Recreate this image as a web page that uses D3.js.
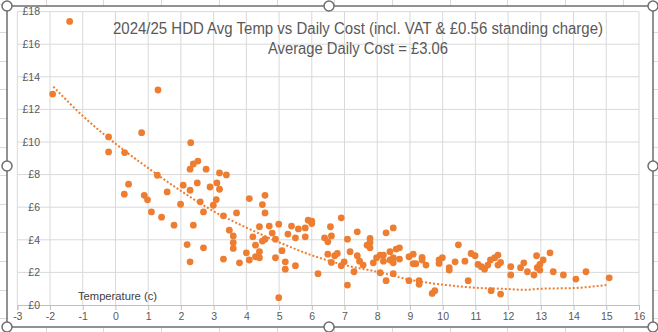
<!DOCTYPE html>
<html>
<head>
<meta charset="utf-8">
<script src="https://cdn.jsdelivr.net/npm/d3@7"></script>
<style>
html,body{margin:0;padding:0;background:#fff;}
svg{display:block;}
text{font-family:"Liberation Sans","Noto Sans",Arial,sans-serif;}
</style>
</head>
<body>
<svg id="chart" width="658" height="332"></svg>
<script>
// ---- Data ----
const temps = [
 -1.92,-1.40,1.30,-0.21,-0.21,0.28,0.80,2.30,2.38,2.52,2.28,2.77,3.18,3.39,
 0.27,0.40,0.88,0.98,1.10,1.28,1.41,1.58,1.79,1.99,2.07,2.19,2.28,2.28,2.38,2.50,2.59,2.69,2.69,2.89,2.99,3.08,3.10,3.18,3.30,3.30,3.48,3.60,3.60,3.60,3.70,3.79,4.00,4.09,4.09,4.20,4.28,4.28,4.40,4.40,4.40,4.49,4.49,4.57,4.57,4.57,4.70,4.79,4.89,4.89,4.99,4.99,5.09,5.19,5.19,5.27,5.38,5.50,5.50,5.59,5.80,5.80,5.89,6.00,6.00,6.19,6.39,6.49,6.49,6.57,
 6.60,6.60,6.70,6.78,6.90,6.90,6.99,7.09,7.09,7.17,7.29,7.39,7.39,7.46,7.57,7.69,7.78,7.78,7.78,7.88,7.98,8.09,8.09,8.19,8.19,8.27,8.27,8.39,8.39,8.49,8.49,8.49,8.49,8.58,8.68,8.68,8.97,8.97,9.10,9.10,9.18,9.28,9.28,9.37,9.37,9.49,9.68,9.76,9.89,9.89,9.99,10.20,10.20,10.38,10.48,10.68,10.78,10.87,10.99,11.08,11.18,11.28,11.38,11.46,11.48,11.59,11.69,11.69,11.77,11.77,12.08,12.08,12.38,12.48,12.59,12.79,12.87,12.89,12.97,12.97,13.07,13.28,13.38,13.69,14.07,14.38,15.09
];
const dailyCost = [
 12.94,17.40,13.19,10.31,9.39,9.35,10.57,9.96,8.65,8.83,8.33,8.33,8.10,7.98,
 6.80,7.41,6.73,6.45,5.71,7.96,5.39,6.94,4.90,6.18,7.35,3.71,7.04,2.65,4.90,7.49,6.33,3.51,5.71,7.24,6.12,6.47,7.49,7.10,5.47,2.82,4.59,4.24,3.82,3.47,5.65,2.59,3.20,6.53,2.76,4.18,3.67,2.96,4.80,3.27,2.90,3.92,6.16,6.73,5.65,4.04,4.84,4.41,4.04,2.90,4.96,0.45,3.33,2.65,2.20,4.35,4.84,2.41,4.12,4.67,4.73,4.18,5.20,5.14,5.00,1.92,4.12,3.88,3.12,4.80,
 4.24,2.61,3.02,3.16,5.35,2.41,2.65,4.04,1.22,3.27,2.04,4.49,3.02,2.69,2.45,3.67,4.08,3.84,3.51,2.59,2.90,3.06,1.98,3.06,2.69,4.43,1.49,3.27,2.76,4.73,2.90,2.59,1.92,3.43,3.51,2.82,2.96,1.49,3.12,2.53,2.53,1.49,1.27,2.92,2.76,2.45,0.71,0.88,2.76,2.55,2.90,2.29,2.14,2.65,3.69,2.69,1.49,3.16,3.02,2.49,2.35,2.20,2.45,2.76,0.88,2.90,3.06,2.45,2.61,0.67,2.35,1.84,2.29,2.59,2.04,1.84,3.02,2.29,2.49,2.14,2.76,3.20,2.04,1.84,1.59,2.04,1.67
];
const trendTemps = [-1.9,-1,0,1,2,3,4,5,6,7,8,9,10,11,12,12.5,13,14,15];
const trendCost  = [13.4,11.6,9.9,8.4,7.0,5.75,4.75,3.85,3.05,2.45,2.04,1.55,1.25,1.06,0.98,0.93,1.0,1.04,1.23];
const xTicks = d3.range(-3, 17, 1);
const yTicks = d3.range(0, 19, 2);
const titleLines = ["2024/25 HDD Avg Temp vs Daily Cost (incl. VAT & £0.56 standing charge)", "Average Daily Cost = £3.06"];
const xTitle = "Temperature (c)";

// ---- Layout ----
const svg = d3.select("#chart");
const W = 658, H = 332;
const plot = {left: 17.3, right: 639, top: 11.6, bottom: 305};
const x = d3.scaleLinear().domain([-3, 16]).range([plot.left, plot.right]);
const y = d3.scaleLinear().domain([0, 18]).range([plot.bottom, plot.top]);
const orange = "#ED7D31", grid = "#d9d9d9", txt = "#595959";

// spreadsheet cells behind the chart
const cellG = svg.append("g").attr("stroke", "#dadada").attr("stroke-width", 1);
d3.range(0, 11).forEach(i => {
  const cx = Math.round(45.7 + 57.7 * i) + 0.5;
  cellG.append("line").attr("x1", cx).attr("x2", cx).attr("y1", 0).attr("y2", 6);
  cellG.append("line").attr("x1", cx).attr("x2", cx).attr("y1", 327).attr("y2", H);
});
d3.range(0, 12).forEach(i => {
  const cy = Math.round(3.5 + 28.6 * i) + 0.5;
  cellG.append("line").attr("x1", 0).attr("x2", 7).attr("y1", cy).attr("y2", cy);
  cellG.append("line").attr("x1", 653).attr("x2", W).attr("y1", cy).attr("y2", cy);
});

// chart area
svg.append("rect").attr("x", 7).attr("y", 6).attr("width", 646).attr("height", 321)
  .attr("fill", "#fff").attr("stroke", "#6e6e6e").attr("stroke-width", 1.5);

// gridlines
const g = svg.append("g");
g.selectAll("line.vg").data(xTicks).join("line").attr("class", "vg")
  .attr("x1", d => x(d)).attr("x2", d => x(d)).attr("y1", plot.top).attr("y2", plot.bottom)
  .attr("stroke", grid).attr("stroke-width", 1);
g.selectAll("line.hg").data(yTicks.filter(d => d > 0)).join("line").attr("class", "hg")
  .attr("x1", plot.left).attr("x2", plot.right).attr("y1", d => y(d)).attr("y2", d => y(d))
  .attr("stroke", grid).attr("stroke-width", 1);

// x axis via d3
const xAxis = d3.axisBottom(x).tickValues(xTicks).tickSize(5).tickPadding(3).tickFormat(d3.format("d"));
const xa = svg.append("g").attr("transform", `translate(0,${plot.bottom})`).call(xAxis);
xa.select(".domain").attr("stroke", "#bfbfbf");
xa.selectAll(".tick line").attr("stroke", "#bfbfbf");
xa.selectAll(".tick text").attr("fill", txt).attr("font-size", 10.5)
  .attr("font-family", "Liberation Sans, Noto Sans, sans-serif").text(d => d < 0 ? "-" + Math.abs(d) : d);

// y axis labels (drawn inside the plot like the reference)
const ya = svg.append("g").attr("transform", `translate(40,0)`)
  .call(d3.axisLeft(y).tickValues(yTicks).tickSize(0).tickPadding(0).tickFormat(d => "£" + d));
ya.select(".domain").remove();
ya.selectAll(".tick text").attr("fill", txt).attr("font-size", 10.5)
  .attr("font-family", "Liberation Sans, Noto Sans, sans-serif");

// trendline (dotted)
const line = d3.line().x(d => x(d[0])).y(d => y(d[1])).curve(d3.curveMonotoneX);
svg.append("path").datum(trendTemps.map((t, i) => [t, trendCost[i]]))
  .attr("d", line).attr("fill", "none").attr("stroke", orange)
  .attr("stroke-width", 2).attr("stroke-dasharray", "2,2");

// points
svg.append("g").selectAll("circle").data(temps.map((t, i) => [t, dailyCost[i]])).join("circle")
  .attr("cx", d => x(d[0])).attr("cy", d => y(d[1])).attr("r", 3.4).attr("fill", orange);

// title
const tl = [{t: titleLines[0], y: 34, w: 490}, {t: titleLines[1], y: 54, w: 180}];
svg.selectAll("text.title").data(tl).join("text").attr("class", "title")
  .attr("x", 358).attr("y", d => d.y).attr("text-anchor", "middle")
  .attr("font-size", 16).attr("fill", txt)
  .attr("textLength", d => d.w).attr("lengthAdjust", "spacingAndGlyphs")
  .text(d => d.t);

// axis title
svg.append("text").attr("x", 78).attr("y", 300).attr("font-size", 11).attr("fill", "#404040")
  .attr("textLength", 79).attr("lengthAdjust", "spacingAndGlyphs").text(xTitle);

// selection handles
const handles = [[7,6],[329,6],[653,6],[7,166],[653,166],[7,327],[329,327],[653,327]];
svg.append("g").selectAll("circle").data(handles).join("circle")
  .attr("cx", d => d[0]).attr("cy", d => d[1]).attr("r", 5)
  .attr("fill", "#fff").attr("stroke", "#6e6e6e").attr("stroke-width", 1.5);
</script>
</body>
</html>
